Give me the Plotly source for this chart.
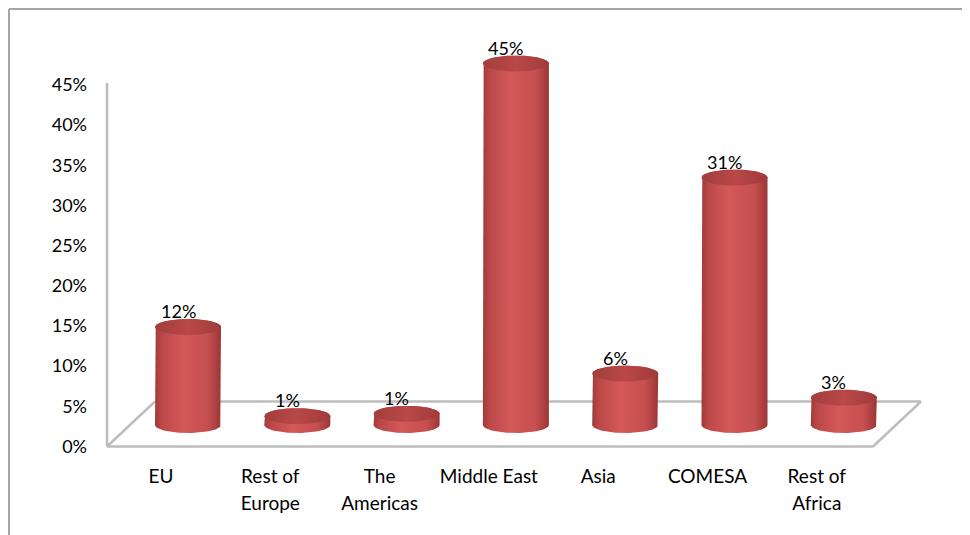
import numpy as np
import plotly.graph_objects as go

# ---- data ----
categories = ["EU", "Rest of<br>Europe", "The<br>Americas", "Middle East", "Asia", "COMESA", "Rest of<br>Africa"]
shares = [12.2, 1.1, 1.4, 45.0, 6.4, 30.8, 3.4]   # percent of total
y_ticks = [0, 5, 10, 15, 20, 25, 30, 35, 40, 45]

# ---- geometry / style ----
OFF = 8                   # page body margin
W, H = 970 - OFF, 535 - OFF
L, R, T, B = 88 - OFF, 0, 2, 75
PX_PER_CAT = 109.3
CAT0_PX = 161 - OFF
PX_PER_PCT = 8.033
ZERO_PX = 446.5 - OFF

x_range = [(L - CAT0_PX) / PX_PER_CAT, (W - R - CAT0_PX) / PX_PER_CAT]
y_range = [(ZERO_PX - (H - B)) / PX_PER_PCT, (ZERO_PX - T) / PX_PER_PCT]

bar_dx = 27 / PX_PER_CAT
bar_base = 21.5 / PX_PER_PCT
rx = 33 / PX_PER_CAT
ry = 8 / PX_PER_PCT

floor_x0 = (107 - OFF - CAT0_PX) / PX_PER_CAT
floor_x1 = (873 - OFF - CAT0_PX) / PX_PER_CAT
depth_dx = 48 / PX_PER_CAT
depth_dy = 45 / PX_PER_PCT
wall_top = (ZERO_PX - (83 - OFF)) / PX_PER_PCT

body_scale = [[0, "#a13a3a"], [0.1, "#bb4848"], [0.42, "#d45858"], [0.8, "#c64f4f"], [1, "#9c3636"]]
top_scale = [[0, "#a33d3d"], [0.5, "#b94848"], [1, "#a03b3b"]]

fig = go.Figure()

th_up = np.linspace(np.pi, 0, 60)
th_dn = np.linspace(0, -np.pi, 60)
th_full = np.linspace(0, 2 * np.pi, 100)

for i, v in enumerate(shares):
    cx = i + bar_dx
    yb = bar_base
    yt = bar_base + v
    xs = np.concatenate([[cx - rx], cx + rx * np.cos(th_up), [cx + rx], cx + rx * np.cos(th_dn)])
    ys = np.concatenate([[yb], yt + ry * np.sin(th_up), [yb], yb + ry * np.sin(th_dn)])
    fig.add_trace(go.Scatter(x=xs, y=ys, mode="lines", fill="toself", line=dict(width=0),
                             fillgradient=dict(type="horizontal", colorscale=body_scale),
                             hoverinfo="skip", showlegend=False))
    fig.add_trace(go.Scatter(x=cx + rx * np.cos(th_full), y=yt + ry * np.sin(th_full), mode="lines",
                             fill="toself", line=dict(width=0),
                             fillgradient=dict(type="horizontal", colorscale=top_scale),
                             hoverinfo="skip", showlegend=False))
    fig.add_annotation(x=cx - 10 / PX_PER_CAT, y=yt + ry, text=f"{round(v)}%", showarrow=False,
                       xanchor="center", yanchor="bottom", yshift=-5,
                       font=dict(family="Lato", size=18, color="#000000"))

# floor and wall edges
edge = dict(color="#bdbdbd", width=2.5)
for (xa, ya, xb, yb_) in [
    (floor_x0, 0, floor_x1, 0),
    (floor_x0, 0, floor_x0 + depth_dx, depth_dy),
    (floor_x0 + depth_dx, depth_dy, floor_x1 + depth_dx, depth_dy),
    (floor_x1, 0, floor_x1 + depth_dx, depth_dy),
    (floor_x0, 0, floor_x0, wall_top),
]:
    fig.add_shape(type="line", xref="x", yref="y", x0=xa, y0=ya, x1=xb, y1=yb_, line=edge, layer="below")

# outer chart border (top and left edges, kept inside the figure)
pw, ph = W - L - R, H - T - B
bx = (1 - L) / pw
by = (H - B - 1) / ph
fig.add_shape(type="line", xref="paper", yref="paper", x0=bx, y0=by, x1=(W + 10 - L) / pw, y1=by,
              line=dict(color="#a6a6a6", width=2))
fig.add_shape(type="line", xref="paper", yref="paper", x0=bx, y0=by, x1=bx, y1=(H - B - H - 10) / ph,
              line=dict(color="#a6a6a6", width=2))

cat_text = ["<br>".join(f"<span style='font-size:19px'>{part}</span>" for part in c.split("<br>"))
            for c in categories]

fig.update_layout(
    width=W, height=H,
    margin=dict(l=L, r=R, t=T, b=B),
    paper_bgcolor="white", plot_bgcolor="white",
    showlegend=False,
    font=dict(family="Lato", size=18, color="#000000"),
    xaxis=dict(range=x_range, tickmode="array", tickvals=list(range(len(categories))), ticktext=cat_text,
               tickfont=dict(size=21.5),
               showgrid=False, zeroline=False, showline=False, ticks="", ticklen=0,
               fixedrange=True, automargin=False),
    yaxis=dict(range=y_range, tickmode="array", tickvals=y_ticks, ticktext=[f"{t}%" for t in y_ticks],
               showgrid=False, zeroline=False, showline=False, ticks="", ticklen=0,
               fixedrange=True, automargin=False),
)

fig.write_html("out.html")
